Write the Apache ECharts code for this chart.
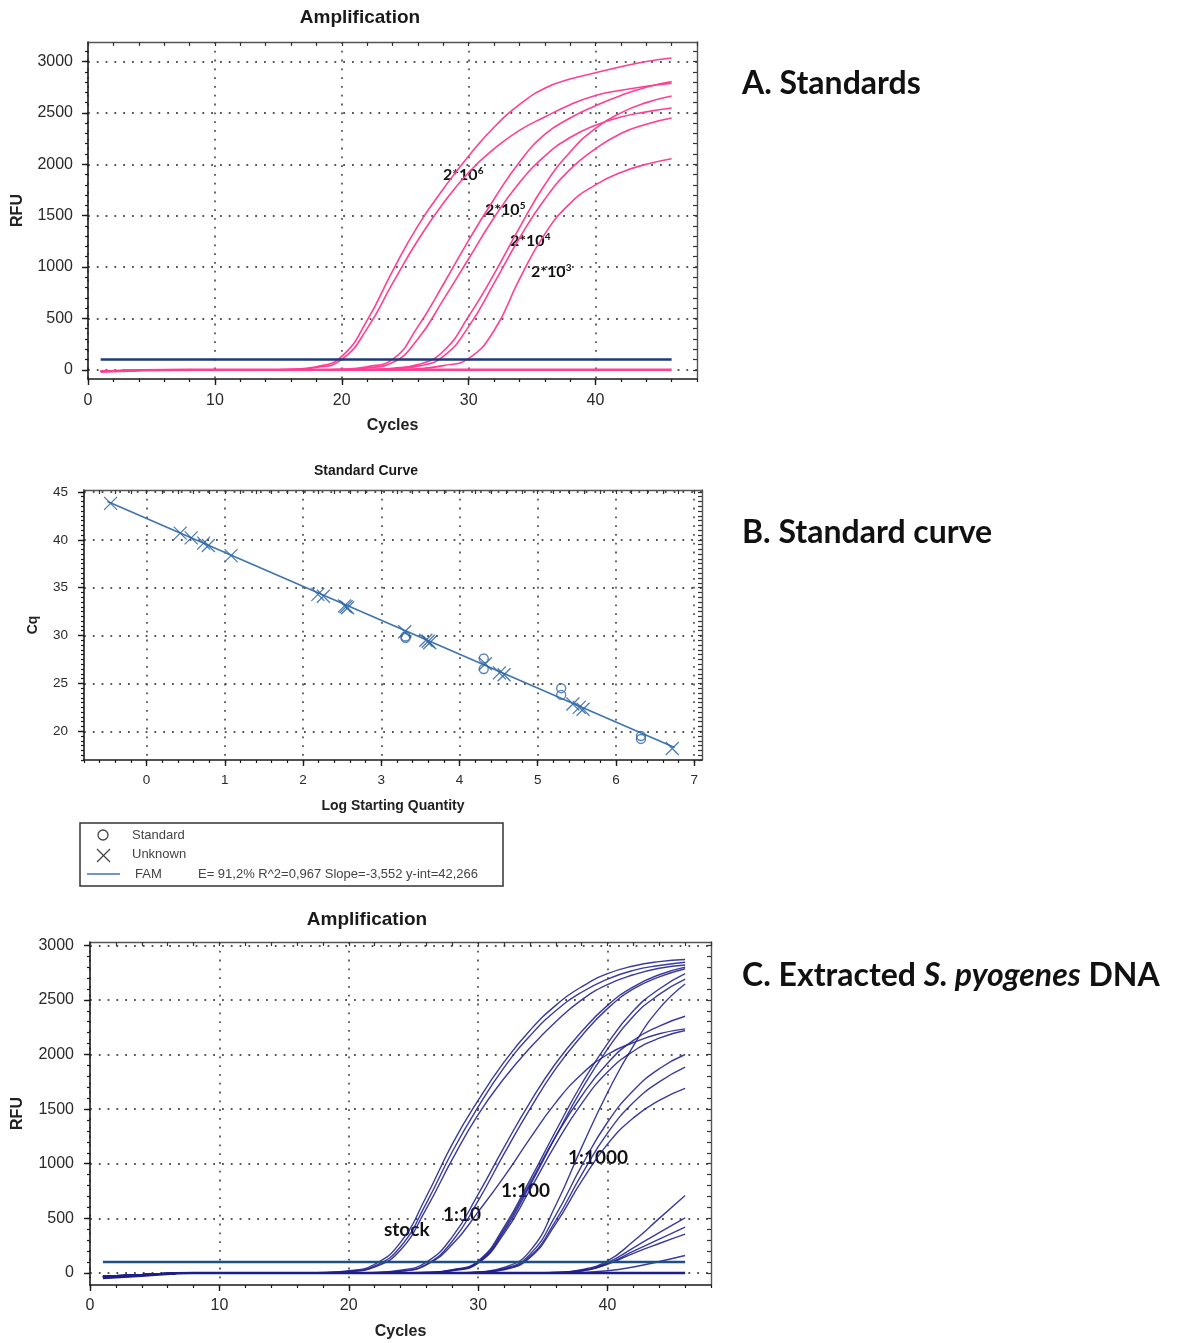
<!DOCTYPE html>
<html>
<head>
<meta charset="utf-8">
<script src="https://cdn.jsdelivr.net/npm/echarts@6/dist/echarts.min.js"></script>
<style>
  html, body { margin: 0; padding: 0; background: #fff; }
  #chart { width: 1186px; height: 1343px; }
</style>
</head>
<body>
<div id="chart"></div>
<script>
// Three qPCR panels in one ECharts instance: A = standards amplification,
// B = standard curve, C = amplification of extracted DNA dilutions.
// Values.

// ---- A. standards, RFU per cycle ----
const cyclesA = [1, 4, 8, 12, 14, 16, 18, 20, 22, 24, 26, 28, 30, 32, 34, 36, 38, 40, 42, 44, 46];
const std6a = [-15, -5, 0, 0, 0, 5, 30, 130, 480, 960, 1400, 1760, 2080, 2360, 2580, 2740, 2830, 2890, 2950, 3000, 3035];
const std6b = [-15, -5, 0, 0, 0, 3, 22, 100, 400, 840, 1260, 1620, 1920, 2150, 2330, 2460, 2580, 2670, 2720, 2760, 2790];
const std5a = [-15, -5, 0, 0, 0, 0, 0, 5, 30, 100, 420, 830, 1260, 1660, 2020, 2290, 2450, 2570, 2670, 2750, 2805];
const std5b = [-15, -5, 0, 0, 0, 0, 0, 3, 18, 70, 300, 680, 1080, 1480, 1820, 2080, 2260, 2380, 2460, 2510, 2548];
const std4a = [-15, -5, 0, 0, 0, 0, 0, 0, 3, 15, 50, 180, 520, 930, 1380, 1800, 2120, 2350, 2500, 2600, 2665];
const std4b = [-15, -5, 0, 0, 0, 0, 0, 0, 2, 10, 35, 130, 420, 840, 1280, 1660, 1950, 2150, 2300, 2390, 2450];
const std3 = [-15, -5, 0, 0, 0, 0, 0, 0, 0, 3, 10, 40, 110, 380, 880, 1320, 1620, 1800, 1920, 2000, 2054];
const ntcA = [-20, -6, 0, 0, 0, 0, 0, 0, 0, 0, 0, 0, 0, 0, 0, 0, 0, 0, 0, 0, 0];
const thresholdCycles = [1, 46];
const thresholdRfu = [100, 100];

// ---- B. standard curve ----
const stdLogQ = [3.31, 3.31, 4.31, 4.31, 5.30, 5.30, 6.32, 6.32];
const stdCq = [29.75, 29.9, 27.6, 26.5, 24.5, 23.8, 19.5, 19.2];
const unkLogQ = [-0.46, 0.43, 0.57, 0.73, 0.79, 1.08, 2.19, 2.26, 2.53, 2.55, 2.57, 3.30, 3.57, 3.60, 3.62, 4.33, 4.51, 4.57, 5.45, 5.53, 5.58, 6.72];
const unkCq = [43.8, 40.7, 40.2, 39.65, 39.4, 38.35, 34.3, 34.1, 33.1, 33.0, 32.9, 30.4, 29.5, 29.4, 29.25, 27.05, 26.1, 25.9, 22.85, 22.5, 22.3, 18.2];
const fitLogQ = [-0.5, 6.75];
const fitCq = [44.0, 18.3];

// ---- C. extracted DNA dilutions, RFU per cycle ----
const cyclesC = [1, 4, 8, 12, 16, 18, 20, 22, 24, 26, 28, 30, 32, 34, 36, 38, 40, 42, 44, 46];
const stock1 = [-40, -20, 0, 0, 0, 5, 20, 80, 280, 700, 1180, 1580, 1930, 2220, 2450, 2620, 2740, 2810, 2850, 2870];
const stock2 = [-35, -15, 0, 0, 0, 3, 15, 65, 240, 640, 1110, 1520, 1880, 2170, 2400, 2570, 2690, 2770, 2815, 2845];
const stock3 = [-30, -15, 0, 0, 0, 3, 12, 55, 210, 590, 1040, 1450, 1780, 2060, 2300, 2500, 2640, 2730, 2790, 2820];
const dil10a = [-40, -20, 0, 0, 0, 0, 0, 5, 25, 100, 330, 720, 1150, 1560, 1920, 2210, 2450, 2620, 2730, 2800];
const dil10b = [-35, -15, 0, 0, 0, 0, 0, 3, 18, 80, 290, 660, 1090, 1500, 1870, 2170, 2420, 2600, 2710, 2785];
const dil10c = [-30, -15, 0, 0, 0, 0, 0, 3, 15, 75, 260, 560, 880, 1230, 1560, 1820, 2000, 2110, 2190, 2235];
const dil100a = [-40, -20, 0, 0, 0, 0, 0, 0, 0, 5, 30, 110, 420, 850, 1300, 1730, 2100, 2400, 2600, 2740];
const dil100b = [-35, -15, 0, 0, 0, 0, 0, 0, 0, 4, 25, 95, 380, 800, 1250, 1680, 2050, 2350, 2550, 2690];
const dil100c = [-30, -15, 0, 0, 0, 0, 0, 0, 0, 4, 25, 100, 400, 820, 1250, 1620, 1920, 2130, 2260, 2350];
const dil100d = [-40, -20, 0, 0, 0, 0, 0, 0, 0, 3, 20, 90, 360, 760, 1180, 1550, 1840, 2030, 2150, 2220];
const dil1000a = [-35, -15, 0, 0, 0, 0, 0, 0, 0, 0, 0, 10, 50, 200, 620, 1150, 1650, 2080, 2420, 2645];
const dil1000b = [-40, -20, 0, 0, 0, 0, 0, 0, 0, 0, 0, 8, 40, 170, 530, 980, 1380, 1670, 1870, 2000];
const dil1000c = [-30, -15, 0, 0, 0, 0, 0, 0, 0, 0, 0, 6, 35, 150, 480, 900, 1280, 1560, 1750, 1885];
const dil1000d = [-35, -15, 0, 0, 0, 0, 0, 0, 0, 0, 0, 5, 30, 140, 450, 840, 1180, 1420, 1580, 1690];
const late1 = [-40, -20, 0, 0, 0, 0, 0, 0, 0, 0, 0, 0, 0, 0, 5, 30, 110, 290, 500, 710];
const late2 = [-35, -15, 0, 0, 0, 0, 0, 0, 0, 0, 0, 0, 0, 0, 5, 25, 95, 230, 370, 505];
const late3 = [-30, -15, 0, 0, 0, 0, 0, 0, 0, 0, 0, 0, 0, 0, 4, 20, 85, 200, 310, 420];
const late4 = [-40, -20, 0, 0, 0, 0, 0, 0, 0, 0, 0, 0, 0, 0, 3, 18, 80, 180, 270, 355];
const late5 = [-35, -15, 0, 0, 0, 0, 0, 0, 0, 0, 0, 0, 0, 0, 0, 5, 20, 55, 105, 160];
const ntcC = [-45, -25, 0, 0, 0, 0, 0, 0, 0, 0, 0, 0, 0, 0, 0, 0, 0, 0, 0, 0];

// ---- ticks ----
const cycleTicks = [0, 10, 20, 30, 40];
const rfuTicks = [0, 500, 1000, 1500, 2000, 2500, 3000];
const logTicks = [0, 1, 2, 3, 4, 5, 6, 7];
const cqTicks = [20, 25, 30, 35, 40, 45];

const FONT = "'Liberation Sans', Arial, sans-serif";
const PANEL_FONT = "Lato, 'Open Sans', sans-serif";
const PINK = '#ff3f92';
const STEEL = '#2f67a6';

function range(a, b, step) {
  const out = [];
  for (let v = a; v <= b + 1e-9; v += step) out.push(Math.round(v * 100) / 100);
  return out;
}
const pairs = (xs, ys) => xs.map((x, i) => [x, ys[i]]);

const dotted = { color: '#555', width: 1.8, type: [1.8, 7] };

// main axis (labels + grid lines), minor ticks on the same side, plain frame side opposite
function axisSet(dim, g, ext, major, minor, cfg) {
  const near = dim === 'x' ? 'bottom' : 'left';
  const far = dim === 'x' ? 'top' : 'right';
  const base = { gridIndex: g, type: 'value', min: ext[0], max: ext[1], silent: true };
  return [
    { ...base, position: near,
      name: cfg.name, nameLocation: 'middle', nameGap: cfg.nameGap,
      nameTextStyle: { fontFamily: FONT, fontWeight: 'bold', fontSize: cfg.nameSize, color: '#222' },
      axisLine: { show: true, onZero: false, lineStyle: { color: '#1a1a1a', width: 1.6 } },
      axisTick: { show: true, customValues: major, length: 6, lineStyle: { color: '#1a1a1a', width: 1.4 } },
      axisLabel: { show: true, customValues: major, margin: cfg.margin, formatter: (v) => String(v),
        fontFamily: FONT, fontSize: cfg.labelSize, color: '#2a2a2a' },
      splitLine: { show: true, lineStyle: dotted } },
    { ...base, position: near,
      axisLine: { show: false, onZero: false },
      axisTick: { show: true, customValues: minor, length: 3, lineStyle: { color: '#1a1a1a', width: 1.2 } },
      axisLabel: { show: false }, splitLine: { show: false } },
    { ...base, position: far,
      axisLine: { show: true, onZero: false, lineStyle: { color: '#555', width: 1.4 } },
      axisTick: { show: true, inside: true, customValues: minor, length: 4, lineStyle: { color: '#333', width: 1.2 } },
      axisLabel: { show: false }, splitLine: { show: false } },
  ];
}

function curve(g, xs, ys, color, width, z) {
  return {
    type: 'line', xAxisIndex: 3 * g, yAxisIndex: 3 * g, data: pairs(xs, ys),
    symbol: 'none', smooth: 0.5, silent: true, z: z || 2,
    lineStyle: { color, width },
  };
}

const grids = [
  { left: 88, top: 42, width: 609, height: 337 },
  { left: 84, top: 490, width: 618, height: 270 },
  { left: 90, top: 942, width: 621, height: 343 },
].map((g) => ({ ...g, outerBoundsMode: 'none', containLabel: false }));

const xAxis = [
  ...axisSet('x', 0, [0, 48], cycleTicks, range(0, 48, 2), { name: 'Cycles', nameGap: 39, nameSize: 16, labelSize: 16, margin: 14 }),
  ...axisSet('x', 1, [-0.8, 7.1], logTicks, range(-0.8, 7.0, 0.2), { name: 'Log Starting Quantity', nameGap: 39, nameSize: 14, labelSize: 13.5, margin: 13 }),
  ...axisSet('x', 2, [0, 48], cycleTicks, range(0, 48, 2), { name: 'Cycles', nameGap: 39, nameSize: 16, labelSize: 16, margin: 13 }),
];
const yAxis = [
  ...axisSet('y', 0, [-90, 3190], rfuTicks, range(0, 3100, 100), { name: 'RFU', nameGap: 62, nameSize: 16, labelSize: 16, margin: 15 }),
  ...axisSet('y', 1, [17, 45.2], cqTicks, range(17, 45, 0.5), { name: 'Cq', nameGap: 44, nameSize: 14, labelSize: 13.5, margin: 16 }),
  ...axisSet('y', 2, [-110, 3030], rfuTicks, range(0, 3000, 100), { name: 'RFU', nameGap: 64, nameSize: 16, labelSize: 16, margin: 16 }),
];

const seriesA = [std6a, std6b, std5a, std5b, std4a, std4b, std3]
  .map((v) => curve(0, cyclesA, v, PINK, 1.6))
  .concat([curve(0, cyclesA, ntcA, PINK, 2.6), curve(0, thresholdCycles, thresholdRfu, '#1d3b78', 2.4, 4)]);

const seriesB = [
  { type: 'line', xAxisIndex: 3, yAxisIndex: 3, data: pairs(fitLogQ, fitCq), symbol: 'none', silent: true,
    lineStyle: { color: '#3f74ad', width: 1.6 }, z: 2 },
  { type: 'scatter', xAxisIndex: 3, yAxisIndex: 3, data: pairs(unkLogQ, unkCq), silent: true,
    symbol: 'path://M0,0L12,12M12,0L0,12', symbolSize: 13,
    itemStyle: { color: 'rgba(0,0,0,0)', borderColor: STEEL, borderWidth: 1.3, opacity: 0.85 }, z: 3 },
  { type: 'scatter', xAxisIndex: 3, yAxisIndex: 3, data: pairs(stdLogQ, stdCq), silent: true,
    symbol: 'circle', symbolSize: 9,
    itemStyle: { color: 'rgba(0,0,0,0)', borderColor: STEEL, borderWidth: 1.4 }, z: 3 },
];

const seriesC = [stock1, stock2, stock3, dil10a, dil10b, dil10c, dil100a, dil100b, dil100c, dil100d,
  dil1000a, dil1000b, dil1000c, dil1000d, late1, late2, late3, late4, late5]
  .map((v) => curve(2, cyclesC, v, 'rgba(32,32,140,0.88)', 1.4))
  .concat([curve(2, cyclesC, ntcC, '#1e1e88', 2.6), curve(2, thresholdCycles, thresholdRfu, '#1f5080', 2.4, 4)]);

const txt = (x, y, text, size, extra) => ({
  type: 'text', x, y, silent: true,
  style: { text, fontFamily: FONT, fontSize: size, fontWeight: 'bold', fill: '#1a1a1a',
    align: 'center', verticalAlign: 'middle', ...extra },
});
const supLabel = (x, y, exp) => ({
  type: 'text', x, y, silent: true,
  style: {
    text: '{b|2*10}{s|' + exp + '}', align: 'left', verticalAlign: 'middle',
    rich: {
      b: { fontFamily: PANEL_FONT, fontWeight: 'bold', fontSize: 16, lineHeight: 18, fill: '#111' },
      s: { fontFamily: PANEL_FONT, fontWeight: 'bold', fontSize: 10, lineHeight: 8, verticalAlign: 'top', fill: '#111' },
    },
  },
});
const dilLabel = (x, y, text) => txt(x, y, text, 19, { fontFamily: PANEL_FONT, align: 'left', fill: '#111' });
const panelLabel = (y, text) => txt(742, y, text, 32, { fontFamily: PANEL_FONT, align: 'left', fill: '#111' });

const graphic = [
  txt(360, 18, 'Amplification', 19),
  txt(366, 471, 'Standard Curve', 14),
  txt(367, 920, 'Amplification', 19),
  supLabel(443, 175, '6'), supLabel(485, 210, '5'), supLabel(510, 241, '4'), supLabel(531, 272, '3'),
  dilLabel(384, 1230, 'stock'), dilLabel(443, 1215, '1:10'), dilLabel(501, 1191, '1:100'), dilLabel(568, 1158, '1:1000'),
  panelLabel(84, 'A. Standards'),
  panelLabel(533, 'B. Standard curve'),
  { type: 'text', x: 742, y: 976, silent: true,
    style: { text: '{n|C. Extracted }{i|S. pyogenes}{n| DNA}', align: 'left', verticalAlign: 'middle',
      rich: {
        n: { fontFamily: PANEL_FONT, fontWeight: 'bold', fontSize: 32, fill: '#111' },
        i: { fontFamily: PANEL_FONT, fontWeight: 'bold', fontStyle: 'italic', fontSize: 32, fill: '#111' },
      } } },
  // legend box of the standard curve
  { type: 'rect', silent: true, shape: { x: 80, y: 823, width: 423, height: 63 },
    style: { fill: '#fff', stroke: '#333', lineWidth: 1.5 } },
  { type: 'circle', silent: true, shape: { cx: 103, cy: 835, r: 5 },
    style: { fill: 'none', stroke: '#444', lineWidth: 1.3 } },
  { type: 'line', silent: true, shape: { x1: 97, y1: 849, x2: 110, y2: 862 }, style: { stroke: '#444', lineWidth: 1.3 } },
  { type: 'line', silent: true, shape: { x1: 110, y1: 849, x2: 97, y2: 862 }, style: { stroke: '#444', lineWidth: 1.3 } },
  { type: 'line', silent: true, shape: { x1: 87, y1: 874, x2: 120, y2: 874 }, style: { stroke: '#3f74ad', lineWidth: 1.6 } },
  txt(132, 835, 'Standard', 13, { fontWeight: 'normal', align: 'left', fill: '#444' }),
  txt(132, 854, 'Unknown', 13, { fontWeight: 'normal', align: 'left', fill: '#444' }),
  txt(135, 874, 'FAM', 13, { fontWeight: 'normal', align: 'left', fill: '#444' }),
  txt(198, 874, 'E= 91,2% R^2=0,967 Slope=-3,552 y-int=42,266', 13, { fontWeight: 'normal', align: 'left', fill: '#444' }),
];

const chart = echarts.init(document.getElementById('chart'), null, { renderer: 'canvas' });
chart.setOption({
  animation: false,
  backgroundColor: '#fff',
  grid: grids,
  xAxis,
  yAxis,
  series: [...seriesA, ...seriesB, ...seriesC],
  graphic,
});
</script>
</body>
</html>
